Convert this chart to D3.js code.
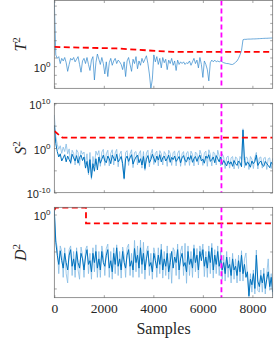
<!DOCTYPE html>
<html>
<head>
<meta charset="utf-8">
<script src="https://cdn.jsdelivr.net/npm/d3@7"></script>
<style>
  body { margin: 0; background: #fff; }
  svg { display: block; }
</style>
</head>
<body>
<script>
// read-off values, stored as log10 of the statistic, one point every `step` samples
const step = 60;
const nSamples = 8820;
const xTicks = [0, 2000, 4000, 6000, 8000];
const faultAt = 6750;

const t2Log = [
  7.6, 1.3, 0.9, 1.1, 0.3, 0.9, 0.6, 1.0, 0.4, -0.6,
  0.2, 0.9, 0.7, 1.0, 0.5, 0.8, 1.1, 0.2, -0.7, 0.6,
  0.9, 0.3, 1.0, 0.2, -0.5, 0.7, 1.1, -1.6, 0.4, 1.4,
  0.8, 0.2, 1.0, 0.3, -0.9, 0.5, -1.2, 0.4, 0.9, 0.1,
  0.6, 0.9, 0.3, 0.7, 0.5, 0.2, -0.4, 0.5, -1.2, 0.6,
  1.0, 0.2, -0.6, 0.8, 0.3, 1.1, -0.3, 0.6, 0.1, 0.9,
  0.4, 0.8, 1.2, 0.3, -0.9, -2.6, -1.5, 1.3, 0.5, 1.1,
  0.2, 0.9, -0.2, 1.0, 0.4, 0.8, -0.4, 0.7, 0.3, 0.9,
  0.1, 0.6, -0.5, 0.7, 0.2, 0.5, 0.3, 0.5, 0.2, 0.4,
  0.3, 0.6, 0.1, 0.5, 0.9, 0.3, 0.7, -0.2, 1.0, 0.2,
  -1.3, 0.6, 0.2, -0.4, -1.7, 0.4, 0.7, 0.5, 0.7, 0.5,
  0.6, 0.5, 0.6, 0.5, 0.4, 0.35, 0.3, 0.3, 0.25, 0.2,
  0.2, 0.3, 0.45, 0.6, 0.9, 1.3, 1.8, 3.05, 3.1, 3.1,
  3.12, 3.13, 3.13, 3.14, 3.15, 3.15, 3.16, 3.17, 3.18, 3.19,
  3.2, 3.21, 3.22, 3.22, 3.23, 3.24, 3.25, 3.26
];
const t2Limit = [[0, 2.22], [2500, 2.05], [4800, 1.64], [8820, 1.64]];

const s2Log = [
  5.1, 1.0, -0.8, -2.0, -1.3, -2.9, -2.2, -1.5, -3.1, -1.8,
  -2.6, -3.3, -1.4, -2.2, -2.9, -1.7, -3.4, -2.1, -1.6, -2.8,
  -2.0, -4.5, -3.0, -5.6, -2.6, -6.6, -3.5, -5.2, -2.4, -4.9,
  -2.0, -3.4, -2.5, -1.6, -2.9, -3.3, -1.8, -2.4, -3.5, -1.6,
  -2.3, -2.9, -1.4, -3.1, -2.6, -1.9, -3.5, -6.8, -2.4, -1.8,
  -3.0, -2.2, -1.5, -3.6, -2.7, -2.0, -1.6, -3.3, -2.4, -3.8,
  -1.9, -4.6, -2.5, -1.7, -3.3, -2.6, -1.4, -2.3, -3.2, -1.8,
  -2.7, -1.5, -3.1, -2.2, -1.8, -2.9, -2.4, -1.6, -3.2, -2.1,
  -2.6, -1.8, -3.0, -2.5, -1.9, -3.3, -2.2, -1.7, -2.8, -3.1,
  -2.0, -2.6, -1.7, -3.2, -2.4, -1.9, -3.0, -2.2, -1.6, -2.9,
  -2.5, -3.4, -1.8, -2.3, -1.5, -3.0, -2.6, -2.0, -3.3, -1.7,
  -2.4, -3.1, -2.0, -3.7, -2.8, -3.4, -4.0, -2.9, -3.6, -3.1,
  -4.1, -2.8, -3.5, -3.9, -2.9, -3.3, -4.2, 4.0, -2.8, -3.9,
  -3.1, -3.6, -4.3, -2.9, -3.5, -3.0, -1.6, -3.9, -3.3, -2.9,
  -3.8, -4.1, -3.0, -3.5, -3.9, -4.4, -3.2, -3.7
];
const s2RawLog = [
  7.4, 2.6, 0.8, -0.3, 0.5, -1.2, 0.2, -0.8, 0.9, -1.3,
  -0.2, -3.6, -0.5, -1.2, -3.8, -0.4, -1.0, -3.9, -0.6, -1.4,
  -0.9, -3.6, -1.3, -6.0, -1.0, -7.0, -1.9, -4.0, -0.7, -1.6,
  -0.6, -4.1, -0.9, -0.3, -3.9, -1.3, -0.5, -4.0, -1.2, -0.4,
  -3.8, -1.1, -0.3, -4.2, -1.4, -0.7, -4.3, -7.0, -1.0, -0.6,
  -3.9, -1.3, -0.4, -4.4, -1.0, -0.8, -3.8, -1.3, -0.6, -4.5,
  -0.8, -5.0, -1.1, -0.5, -4.2, -1.3, -0.3, -3.7, -1.2, -0.7,
  -4.0, -0.6, -1.3, -3.8, -0.8, -1.4, -4.1, -0.5, -1.2, -3.9,
  -1.0, -0.7, -4.0, -1.2, -0.6, -4.1, -1.3, -0.8, -3.9, -1.1,
  -0.8, -3.9, -0.7, -1.4, -4.0, -0.9, -1.3, -3.8, -0.5, -1.5,
  -3.9, -1.1, -0.7, -4.1, -0.4, -1.4, -4.0, -0.9, -1.2, -3.8,
  -0.5, -1.8, -4.0, -1.3, -2.0, -4.6, -2.1, -1.8, -4.5, -2.2,
  -1.9, -4.7, -2.0, -2.3, -4.6, -1.9, -2.6, 4.3, -4.4, -2.0,
  -2.2, -4.8, -1.9, -2.5, -4.6, -2.1, -1.0, -4.7, -2.2, -2.0,
  -4.5, -2.3, -2.1, -4.8, -2.4, -2.2, -4.6, -2.3
];
const s2Limit = [[0, 3.8], [150, 3.1], [330, 2.3], [8820, 2.3]];

const d2Log = [
  0.12, -0.75, -1.1, -1.35, -0.98, -1.25, -1.45, -1.05, -1.3, -1.5,
  -1.1, -0.95, -1.4, -1.2, -1.5, -1.0, -1.3, -1.45, -1.05, -1.2,
  -1.5, -1.15, -0.95, -1.35, -1.25, -1.55, -1.05, -1.3, -1.0, -1.45,
  -1.2, -1.5, -1.0, -1.3, -1.4, -1.1, -0.95, -1.45, -1.25, -1.55,
  -1.05, -1.35, -0.9, -1.4, -1.2, -1.5, -1.0, -1.3, -1.45, -1.1,
  -0.95, -1.4, -1.25, -1.5, -0.92, -1.3, -1.1, -1.45, -0.9, -1.35,
  -1.05, -1.5, -1.2, -0.98, -1.4, -1.3, -1.55, -1.05, -1.25, -1.45,
  -1.1, -1.35, -0.95, -1.5, -1.2, -1.4, -1.05, -1.55, -1.3, -1.0,
  -1.45, -1.15, -1.3, -0.95, -1.5, -1.2, -1.05, -1.4, -1.3, -1.55,
  -1.0, -1.35, -1.2, -1.45, -0.92, -1.3, -1.1, -1.5, -1.0, -1.25,
  -0.95, -1.4, -1.15, -1.45, -1.0, -1.3, -0.9, -1.5, -1.1, -1.35,
  -1.0, -1.4, -1.2, -1.5, -1.3, -1.6, -1.15, -1.45, -1.35, -1.65,
  -1.2, -1.5, -1.4, -1.65, -1.25, -1.55, -1.1, -1.6, -1.35, -1.7,
  -1.55, -2.2, -1.75, -1.9, -1.6, -2.0, -1.1, -1.8, -1.95, -1.65,
  -1.85, -1.6, -2.0, -1.75, -1.55, -1.95, -1.7, -2.1
];
const d2RawLog = [
  0.1, -0.7, -0.9, -1.6, -0.85, -1.0, -1.7, -0.9, -1.6, -1.85,
  -0.95, -0.85, -1.65, -1.0, -1.7, -0.9, -1.5, -1.75, -0.88, -1.1,
  -1.7, -0.95, -0.85, -1.6, -1.05, -1.75, -0.9, -1.55, -0.82, -1.7,
  -1.0, -1.7, -0.85, -1.1, -1.65, -0.92, -0.8, -1.7, -1.0, -1.75,
  -0.9, -1.6, -0.82, -1.65, -1.0, -1.72, -0.88, -1.1, -1.7, -0.9,
  -0.8, -1.65, -1.05, -1.7, -0.7, -1.55, -0.85, -1.7, -0.69, -1.6,
  -0.75, -1.75, -1.0, -0.85, -1.65, -1.05, -1.75, -0.9, -1.1, -1.7,
  -0.9, -1.6, -0.8, -1.72, -1.0, -1.65, -0.85, -1.75, -1.05, -1.86,
  -0.9, -1.0, -1.65, -0.8, -1.75, -1.0, -0.85, -1.65, -0.78, -1.86,
  -0.85, -1.65, -1.0, -1.7, -0.82, -1.55, -0.92, -1.72, -0.85, -1.1,
  -0.8, -1.68, -1.0, -1.7, -0.85, -1.6, -0.78, -1.72, -0.95, -1.6,
  -0.85, -1.65, -1.0, -1.75, -1.1, -1.8, -1.0, -1.7, -1.15, -1.85,
  -1.05, -1.75, -1.2, -1.85, -1.1, -1.8, -0.98, -1.8, -1.2, -1.04,
  -1.7, -2.25, -1.6, -2.1, -1.5, -2.15, -0.96, -2.05, -2.1, -1.5,
  -2.1, -1.45, -2.15, -1.6, -1.2, -2.05, -1.6, -2.2
];
const d2Limit = [[0, 0.12], [60, 0.19], [1280, 0.19], [1280, -0.24], [8820, -0.24]];

const width = 274;
const height = 338;

const svg = d3.select("body").append("svg")
    .attr("width", width)
    .attr("height", height);

const x = d3.scaleLinear().domain([0, nSamples]).range([54.3, 272.7]);

const panels = [
    { sym: "T", dark: t2Log, light: null, limit: t2Limit, top: 0.5, bottom: 88.3,
      lo: -2.56, hi: 7.59, ticks: d3.range(-2, 8), labels: [0] },
    { sym: "S", dark: s2Log, light: s2RawLog, limit: s2Limit, top: 103.3, bottom: 192.7,
      lo: -10, hi: 10, ticks: [-10, -5, 0, 5, 10], labels: [-10, 0, 10] },
    { sym: "D", dark: d2Log, light: d2RawLog, limit: d2Limit, top: 207.3, bottom: 297.7,
      lo: -2.25, hi: 0.195, ticks: [-2, -1, 0], labels: [0] }
];

const axisColor = "#666";

panels.forEach((p, k) => {
    const y = d3.scaleLog()
        .domain([10 ** p.lo, 10 ** p.hi])
        .range([p.bottom, p.top]);

    const g = svg.append("g");

    g.append("clipPath").attr("id", "clip" + k)
        .append("rect")
        .attr("x", x.range()[0]).attr("y", p.top)
        .attr("width", x.range()[1] - x.range()[0])
        .attr("height", p.bottom - p.top);

    const plot = g.append("g").attr("clip-path", `url(#clip${k})`);

    const line = d3.line()
        .x((d, i) => x(i * step))
        .y(d => y(10 ** d));

    if (p.light) {
        plot.append("path")
            .datum(p.light)
            .attr("d", line)
            .attr("fill", "none")
            .attr("stroke", "#84bbe4")
            .attr("stroke-width", 0.8);
    }
    plot.append("path")
        .datum(p.dark)
        .attr("d", line)
        .attr("fill", "none")
        .attr("stroke", p.light ? "#0072bd" : "#2f87cc")
        .attr("stroke-width", p.light ? 1.0 : 0.7);

    // control limit
    plot.append("path")
        .datum(p.limit)
        .attr("d", d3.line().x(d => x(d[0])).y(d => y(10 ** d[1])))
        .attr("fill", "none")
        .attr("stroke", "#ff0000")
        .attr("stroke-width", 1.8)
        .attr("stroke-dasharray", "6,3.5");

    // fault onset
    plot.append("line")
        .attr("x1", x(faultAt)).attr("x2", x(faultAt))
        .attr("y1", p.top).attr("y2", p.bottom)
        .attr("stroke", "#ff00ff")
        .attr("stroke-width", 1.8)
        .attr("stroke-dasharray", "5,3");

    // box and ticks
    const tickStyle = sel => {
        sel.select(".domain").remove();
        sel.selectAll(".tick line").attr("stroke", axisColor).attr("stroke-width", 0.6);
    };

    g.append("g")
        .attr("transform", `translate(0,${p.bottom})`)
        .call(d3.axisBottom(x).tickValues(xTicks).tickSize(-2.5)
            .tickFormat(k === 2 ? d3.format("d") : () => "").tickPadding(6))
        .call(tickStyle)
        .call(s => s.selectAll("text")
            .attr("font-family", "'Liberation Serif', serif")
            .attr("font-size", 13.5)
            .attr("fill", "#262626"));

    g.append("g")
        .attr("transform", `translate(0,${p.top})`)
        .call(d3.axisTop(x).tickValues(xTicks).tickSize(-2.5).tickFormat(() => ""))
        .call(tickStyle);

    const yVals = p.ticks.map(e => 10 ** e);
    g.append("g")
        .attr("transform", `translate(${x.range()[0]},0)`)
        .call(d3.axisLeft(y).tickValues(yVals).tickSize(-2.5).tickFormat(() => ""))
        .call(tickStyle);

    g.append("g")
        .attr("transform", `translate(${x.range()[1]},0)`)
        .call(d3.axisRight(y).tickValues(yVals).tickSize(-2.5).tickFormat(() => ""))
        .call(tickStyle);

    g.append("rect")
        .attr("x", x.range()[0]).attr("y", p.top)
        .attr("width", x.range()[1] - x.range()[0])
        .attr("height", p.bottom - p.top)
        .attr("fill", "none")
        .attr("stroke", axisColor)
        .attr("stroke-width", 0.7);

    // decade labels, 10 with superscript exponent
    p.labels.forEach(e => {
        const t = g.append("text")
            .attr("x", 50.5)
            .attr("y", y(10 ** e) + 5.5)
            .attr("text-anchor", "end")
            .attr("font-family", "'Liberation Sans', Arial, sans-serif")
            .attr("font-size", 11)
            .attr("fill", "#262626");
        t.append("tspan").text("10");
        t.append("tspan").attr("dy", -5).attr("font-size", 8).text(e);
    });

    // y title
    const title = g.append("text")
        .attr("transform", `translate(26,${(p.top + p.bottom) / 2}) rotate(-90)`)
        .attr("text-anchor", "middle")
        .attr("font-family", "'Liberation Serif', serif")
        .attr("font-size", 16)
        .attr("fill", "#262626");
    title.append("tspan").attr("font-style", "italic").text(p.sym);
    title.append("tspan").attr("dy", -6).attr("font-size", 11).text("2");
});

svg.append("text")
    .attr("x", x(nSamples / 2))
    .attr("y", 334)
    .attr("text-anchor", "middle")
    .attr("font-family", "'Liberation Serif', serif")
    .attr("font-size", 16)
    .attr("fill", "#262626")
    .text("Samples");
</script>
</body>
</html>
